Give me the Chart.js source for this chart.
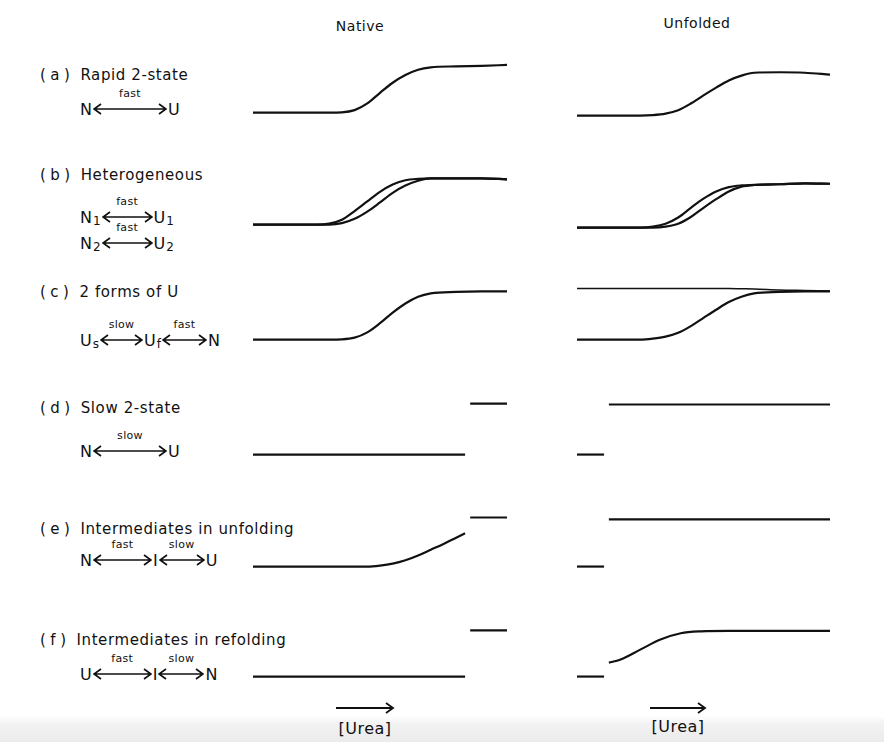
<!DOCTYPE html>
<html>
<head>
<meta charset="utf-8">
<script src="https://cdn.jsdelivr.net/npm/chart.js@4.4.1/dist/chart.umd.min.js"></script>
<style>
  body { margin: 0; background: #fff; }
  #page {
    position: relative; width: 884px; height: 742px; overflow: hidden;
    font-family: "DejaVu Sans", sans-serif; color: #111;
    background: linear-gradient(to bottom, #fff 0, #fff 716px, #f2f2f2 724px, #ebebeb 742px);
  }
  .panel { position: absolute; }
  .head { position: absolute; font-size: 14px; letter-spacing: 0.5px; transform: translateX(-50%); }
  .title { position: absolute; left: 40px; height: 20px; line-height: 20px; font-size: 15px; letter-spacing: 0.6px; white-space: nowrap; }
  .title .tag { letter-spacing: 4.5px; margin-right: 6px; }
  .scheme { position: absolute; left: 80px; height: 20px; display: flex; align-items: center; font-size: 16px; white-space: nowrap; }
  .scheme sub { font-size: 12px; position: relative; top: 4px; margin-left: 1px; }
  .arr { position: relative; display: inline-block; height: 12px; margin: 0 1px; }
  .arr svg { display: block; }
  .arr .k { position: absolute; top: -16px; left: 0; right: 0; text-align: center; font-size: 11px; letter-spacing: 0.3px; }
  .urea { position: absolute; font-size: 16px; letter-spacing: 0.5px; transform: translateX(-50%); }
</style>
</head>
<body>
<div id="page">
  <div class="head" style="left:360px;top:18px">Native</div>
  <div class="head" style="left:697px;top:15px">Unfolded</div>

  <div class="title" style="top:65px"><span class="tag">(a)</span>Rapid 2-state</div>
  <div class="scheme" style="top:99px">N<span class="arr" data-w="74" data-k="fast"></span>U</div>

  <div class="title" style="top:165px"><span class="tag">(b)</span>Heterogeneous</div>
  <div class="scheme" style="top:207px">N<sub>1</sub><span class="arr" data-w="51" data-k="fast"></span>U<sub>1</sub></div>
  <div class="scheme" style="top:233px">N<sub>2</sub><span class="arr" data-w="51" data-k="fast"></span>U<sub>2</sub></div>

  <div class="title" style="top:282px"><span class="tag">(c)</span>2 forms of U</div>
  <div class="scheme" style="top:330px">U<sub>s</sub><span class="arr" data-w="43" data-k="slow"></span>U<sub>f</sub><span class="arr" data-w="45" data-k="fast"></span>N</div>

  <div class="title" style="top:398px"><span class="tag">(d)</span>Slow 2-state</div>
  <div class="scheme" style="top:441px">N<span class="arr" data-w="74" data-k="slow"></span>U</div>

  <div class="title" style="top:519px"><span class="tag">(e)</span>Intermediates in unfolding</div>
  <div class="scheme" style="top:550px">N<span class="arr" data-w="59" data-k="fast"></span>I<span class="arr" data-w="46" data-k="slow"></span>U</div>

  <div class="title" style="top:630px"><span class="tag">(f)</span>Intermediates in refolding</div>
  <div class="scheme" style="top:664px">U<span class="arr" data-w="59" data-k="fast"></span>I<span class="arr" data-w="46" data-k="slow"></span>N</div>

  <svg style="position:absolute;left:336px;top:702px" width="60" height="12"><path d="M0 6 H57 M50 1 L57 6 L50 11" fill="none" stroke="#111" stroke-width="1.8"/></svg>
  <div class="urea" style="left:365px;top:719px">[Urea]</div>
  <svg style="position:absolute;left:650px;top:702px" width="58" height="12"><path d="M0 6 H55 M48 1 L55 6 L48 11" fill="none" stroke="#111" stroke-width="1.8"/></svg>
  <div class="urea" style="left:678px;top:717px">[Urea]</div>
</div>

<script>
// urea grid shared by the sigmoid traces
const urea = [0, 1, 2, 2.5, 3, 3.5, 4, 4.5, 5, 5.5, 6, 6.5, 7, 8, 9, 10];

// (a) rapid 2-state
const nativeA    = [0, 0, 0, 0, 0, 0.005, 0.05, 0.19, 0.41, 0.62, 0.78, 0.89, 0.94, 0.96, 0.97, 0.99];
const unfoldedA  = [0, 0, 0, 0, 0.01, 0.04, 0.11, 0.25, 0.42, 0.58, 0.73, 0.83, 0.89, 0.90, 0.89, 0.85];

// (b) heterogeneous: two species
const nativeB1   = [0, 0, 0, 0, 0.02, 0.10, 0.28, 0.48, 0.68, 0.83, 0.92, 0.95, 0.96, 0.96, 0.96, 0.94];
const nativeB2   = [0, 0, 0, 0, 0, 0.03, 0.12, 0.27, 0.46, 0.66, 0.81, 0.91, 0.96, 0.96, 0.96, 0.94];
const unfoldedB1 = [0, 0, 0, 0, 0.02, 0.08, 0.21, 0.41, 0.60, 0.75, 0.84, 0.875, 0.885, 0.90, 0.92, 0.91];
const unfoldedB2 = [0, 0, 0, 0, 0, 0.02, 0.08, 0.22, 0.41, 0.59, 0.75, 0.85, 0.885, 0.90, 0.92, 0.91];

// (c) two forms of U
const nativeC    = [0, 0, 0, 0, 0, 0.005, 0.04, 0.15, 0.34, 0.56, 0.75, 0.89, 0.96, 0.99, 1.0, 1.0];
const unfoldedC  = [0, 0, 0, 0, 0.02, 0.06, 0.14, 0.28, 0.45, 0.62, 0.78, 0.89, 0.96, 0.99, 1.0, 1.0];
const unfoldedCs = [1.06, 1.06, 1.06, 1.06, 1.06, 1.06, 1.06, 1.06, 1.06, 1.06, 1.06, 1.055, 1.05, 1.03, 1.02, 1.01];

// (d)-(f): before/after jump traces, [urea, signal]
const initialEnd = 8.35, finalStart = 8.55;       // native: long trace then short end mark
const shortEnd = 1.07, longStart = 1.26;          // unfolded: short start mark then long trace
const nativeDFinal = 1.06, unfoldedDFinal = 1.04;
const nativeEUrea  = [0, 1, 2, 3, 4, 4.5, 5, 5.5, 6, 6.5, 7, 7.5, 8, 8.35];
const nativeE      = [0, 0, 0, 0, 0, 0, 0.02, 0.06, 0.13, 0.23, 0.35, 0.47, 0.60, 0.69];
const nativeEFinal = 1.02, unfoldedEFinal = 0.98;
const nativeFFinal = 0.96;
const unfoldedFUrea = [1.26, 1.7, 2.5, 3.3, 4.1, 4.9, 6, 8, 10];
const unfoldedF     = [0.29, 0.35, 0.56, 0.77, 0.90, 0.94, 0.95, 0.95, 0.95];

// fill in the double-headed arrows of the reaction schemes
document.querySelectorAll('.arr').forEach(el => {
  const w = +el.dataset.w;
  el.style.width = w + 'px';
  el.innerHTML =
    `<span class="k">${el.dataset.k}</span>` +
    `<svg width="${w}" height="12"><path d="M1 6 H${w - 1} M8 1 L1 6 L8 11 M${w - 8} 1 L${w - 1} 6 L${w - 8} 11" fill="none" stroke="#111" stroke-width="1.7"/></svg>`;
});

const trace = (xs, ys, width) => ({
  data: xs.map((x, i) => ({ x: x, y: ys[i] })),
  borderColor: '#111',
  borderWidth: width || 2.2,
  pointRadius: 0,
  fill: false,
  tension: 0.4,
  cubicInterpolationMode: 'monotone',
  clip: false
});
const flat = (x0, x1, y) => trace([x0, x1], [y, y]);

const columns = { native: { left: 253, width: 254 }, unfolded: { left: 577, width: 253 } };
const H = 77, Y_MIN = -0.3, Y_MAX = 1.3;

const panels = [
  { col: 'native',   base: 113, sets: [trace(urea, nativeA)] },
  { col: 'unfolded', base: 116, sets: [trace(urea, unfoldedA)] },
  { col: 'native',   base: 225, sets: [trace(urea, nativeB1), trace(urea, nativeB2)] },
  { col: 'unfolded', base: 228, sets: [trace(urea, unfoldedB1), trace(urea, unfoldedB2)] },
  { col: 'native',   base: 340, sets: [trace(urea, nativeC)] },
  { col: 'unfolded', base: 340, sets: [trace(urea, unfoldedCs, 1.5), trace(urea, unfoldedC)] },
  { col: 'native',   base: 455, sets: [flat(0, initialEnd, 0), flat(finalStart, 10, nativeDFinal)] },
  { col: 'unfolded', base: 455, sets: [flat(0, shortEnd, 0), flat(longStart, 10, unfoldedDFinal)] },
  { col: 'native',   base: 567, sets: [trace(nativeEUrea, nativeE), flat(finalStart, 10, nativeEFinal)] },
  { col: 'unfolded', base: 567, sets: [flat(0, shortEnd, 0), flat(longStart, 10, unfoldedEFinal)] },
  { col: 'native',   base: 677, sets: [flat(0, initialEnd, 0), flat(finalStart, 10, nativeFFinal)] },
  { col: 'unfolded', base: 677, sets: [flat(0, shortEnd, 0), trace(unfoldedFUrea, unfoldedF)] }
];

const page = document.getElementById('page');
panels.forEach(p => {
  const c = columns[p.col];
  const canvas = document.createElement('canvas');
  canvas.className = 'panel';
  canvas.width = c.width;
  canvas.height = H;
  canvas.style.left = c.left + 'px';
  canvas.style.top = Math.round(p.base - H * Y_MAX / (Y_MAX - Y_MIN)) + 'px';
  page.appendChild(canvas);
  new Chart(canvas.getContext('2d'), {
    type: 'line',
    data: { datasets: p.sets },
    options: {
      responsive: false,
      animation: false,
      events: [],
      layout: { padding: 0 },
      plugins: { legend: { display: false }, tooltip: { enabled: false } },
      scales: {
        x: { type: 'linear', min: 0, max: 10, display: false },
        y: { min: Y_MIN, max: Y_MAX, display: false }
      }
    }
  });
});
</script>
</body>
</html>
